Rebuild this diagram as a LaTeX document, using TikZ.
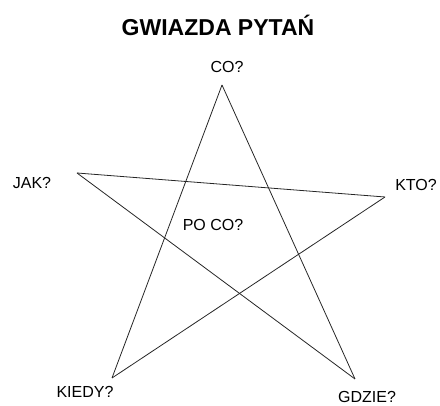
\documentclass[tikz,border=0pt]{standalone}
\usepackage{fontspec}
\setmainfont{Liberation Sans}
\usepackage{tikz}
\usetikzlibrary{positioning}

\begin{document}
\begin{tikzpicture}[
        x=1pt, y=1pt,
        font=\fontsize{16}{18}\selectfont,
        titlebox/.style={font=\fontsize{23}{26}\selectfont\bfseries, inner sep=0pt},
        askbox/.style={inner sep=0pt},
        starline/.style={line width=0.8pt, color=black!85}
      ]
        \useasboundingbox (0,0) rectangle (440,406);

        \node[titlebox] (title) at (218,381) {GWIAZDA PYTAŃ};

        \coordinate (top) at (222,321);
        \coordinate (left) at (77,233);
        \coordinate (right) at (385,209);
        \coordinate (botleft) at (112,28);
        \coordinate (botright) at (355,27);

        \node[askbox] (co) at (227,339) {CO?};
        \node[askbox] (jak) at (32,223) {JAK?};
        \node[askbox] (kto) at (416,221) {KTO?};
        \node[askbox] (kiedy) at (85,14) {KIEDY?};
        \node[askbox] (gdzie) at (367,9) {GDZIE?};
        \node[askbox] (poco) at (213,181) {PO CO?};

        \draw[starline] (top) -- (botleft);
        \draw[starline] (botleft) -- (right);
        \draw[starline] (right) -- (left);
        \draw[starline] (left) -- (botright);
        \draw[starline] (botright) -- (top);
      \end{tikzpicture}
\end{document}
